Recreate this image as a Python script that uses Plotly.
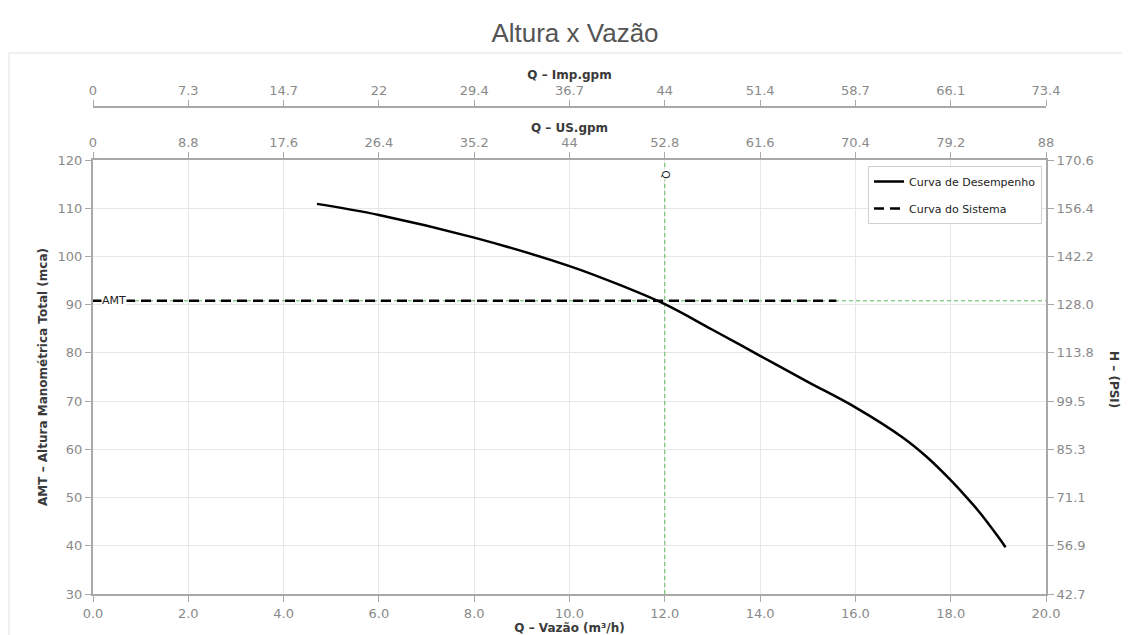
import plotly.graph_objects as go

# ---- data ----
pump_q = [4.7, 6.0, 8.0, 10.0, 11.0, 12.0, 13.0, 14.0, 15.0, 16.0, 17.0, 17.5, 18.0, 18.3, 18.6, 19.0, 19.15]
pump_h = [110.9, 108.6, 103.9, 98.0, 94.3, 90.1, 84.8, 79.4, 74.0, 68.7, 62.4, 58.4, 53.6, 50.4, 47.0, 41.8, 39.7]

sys_q = [0.0, 15.6]
sys_h = [90.8, 90.8]

op_q = 12.0      # operating flow (m3/h)
op_amt = 90.8    # AMT (mca)

x_ticks = [0, 2, 4, 6, 8, 10, 12, 14, 16, 18, 20]
us_gpm_labels = ["0", "8.8", "17.6", "26.4", "35.2", "44", "52.8", "61.6", "70.4", "79.2", "88"]
imp_gpm_labels = ["0", "7.3", "14.7", "22", "29.4", "36.7", "44", "51.4", "58.7", "66.1", "73.4"]

y_ticks = [30, 40, 50, 60, 70, 80, 90, 100, 110, 120]
psi_labels = ["42.7", "56.9", "71.1", "85.3", "99.5", "113.8", "128.0", "142.2", "156.4", "170.6"]

# ---- styles / layout (window pixel coordinates; page body has an 8px margin) ----
FONT = "DejaVu Sans"
TICK_COLOR = "#8a8a8a"
AXIS_COLOR = "#a8a8a8"
GRID_COLOR = "#e6e6e6"
TITLE_COLOR = "#3a3a3a"
GREEN = "#5cb85c"

OFF = 8
WIN_W, WIN_H = 1130, 635
W, H = WIN_W - OFF, WIN_H - OFF
PLOT_L, PLOT_R, PLOT_T, PLOT_B = 93, 1046, 160, 594   # window coords of plot area
TOP_AXIS_Y = 107                                      # window y of Imp.gpm axis line
ML = PLOT_L - OFF
MR = W - (PLOT_R - OFF)
MT = TOP_AXIS_Y - OFF
MB = H - (PLOT_B - OFF)
plot_w = W - ML - MR
plot_h = H - MT - MB
y_dom_top = (PLOT_B - PLOT_T) / plot_h


def px_x(wx):
    return (wx - PLOT_L) / plot_w


def px_y(wy):
    return (PLOT_B - wy) / plot_h


fig = go.Figure()

# green guide lines
fig.add_trace(go.Scatter(x=[x_ticks[0], x_ticks[-1]], y=[op_amt, op_amt], mode="lines",
                         line=dict(color=GREEN, width=1, dash="4px,3px"),
                         showlegend=False, hoverinfo="skip"))
fig.add_trace(go.Scatter(x=[op_q, op_q], y=[y_ticks[0], y_ticks[-1]], mode="lines",
                         line=dict(color=GREEN, width=1, dash="4px,3px"),
                         showlegend=False, hoverinfo="skip"))

fig.add_trace(go.Scatter(x=pump_q, y=pump_h, mode="lines", name="Curva de Desempenho",
                         line=dict(color="black", width=2.5, shape="spline", smoothing=1.0),
                         legendgroup="a"))
fig.add_trace(go.Scatter(x=sys_q, y=sys_h, mode="lines", name="Curva do Sistema",
                         line=dict(color="black", width=2.5, dash="10px,6px"),
                         legendgroup="b"))

# invisible traces for the extra axes
fig.add_trace(go.Scatter(x=[0], y=[30], xaxis="x2", yaxis="y", mode="markers",
                         marker=dict(opacity=0), showlegend=False, hoverinfo="skip"))
fig.add_trace(go.Scatter(x=[0], y=[30], xaxis="x3", yaxis="y", mode="markers",
                         marker=dict(opacity=0), showlegend=False, hoverinfo="skip"))
fig.add_trace(go.Scatter(x=[0], y=[30], xaxis="x", yaxis="y2", mode="markers",
                         marker=dict(opacity=0), showlegend=False, hoverinfo="skip"))

tickfont = dict(family=FONT, size=13, color=TICK_COLOR)
titlefont = dict(family=FONT, size=12, color=TITLE_COLOR, weight="bold")

common_x = dict(range=[0, 20], showline=True, linecolor=AXIS_COLOR, linewidth=2,
                ticks="outside", ticklen=6, tickcolor=AXIS_COLOR, tickfont=tickfont,
                zeroline=False)

fig.update_layout(
    width=W, height=H,
    margin=dict(l=ML, r=MR, t=MT, b=MB, autoexpand=False),
    paper_bgcolor="white", plot_bgcolor="white",
    font=dict(family=FONT),
    title=dict(text="Altura x Vazão", x=(575 - OFF) / W, xref="container", xanchor="center",
               y=1 - (33 - OFF) / H, yref="container", yanchor="middle",
               font=dict(family="Liberation Sans", size=26, color="#555555")),
    xaxis=dict(**common_x, tickvals=x_ticks, tickformat=".1f", showgrid=True,
               gridcolor=GRID_COLOR, gridwidth=1, domain=[0, 1], anchor="y",
               title=dict(text="Q – Vazão (m³/h)", font=titlefont, standoff=0)),
    xaxis2=dict(**common_x, tickvals=x_ticks, ticktext=us_gpm_labels, showgrid=False,
                overlaying="x", side="top", anchor="y",
                title=dict(text="Q – US.gpm", font=titlefont, standoff=0)),
    xaxis3=dict(**common_x, tickvals=x_ticks, ticktext=imp_gpm_labels, showgrid=False,
                overlaying="x", side="top", anchor="free", position=1,
                title=dict(text="Q – Imp.gpm", font=titlefont, standoff=0)),
    yaxis=dict(range=[30, 120], tickvals=y_ticks, domain=[0, y_dom_top], showline=True,
               linecolor=AXIS_COLOR, linewidth=2, ticks="outside", ticklen=6,
               tickcolor=AXIS_COLOR, tickfont=tickfont, showgrid=True,
               gridcolor=GRID_COLOR, zeroline=False,
               title=dict(text="AMT – Altura Manométrica Total (mca)", font=titlefont,
                          standoff=7)),
    yaxis2=dict(range=[30, 120], tickvals=y_ticks, ticktext=psi_labels, overlaying="y",
                side="right", anchor="x", showline=True, linecolor=AXIS_COLOR,
                linewidth=2, ticks="outside", ticklen=6, tickcolor=AXIS_COLOR,
                tickfont=tickfont, showgrid=False, zeroline=False),
    legend=dict(x=px_x(1042), y=px_y(166),
                xanchor="right", yanchor="top", bgcolor="white",
                bordercolor="#d0d0d0", borderwidth=1, tracegroupgap=8,
                traceorder="grouped",
                font=dict(family=FONT, size=11, color="#222222")),
    showlegend=True,
)

# labels on the guide lines
fig.add_annotation(x=0.17, y=op_amt, xref="x", yref="y", text="AMT", showarrow=False,
                   xanchor="left", yanchor="middle", bgcolor="white",
                   font=dict(family=FONT, size=11, color="#222222"), borderpad=0)
fig.add_annotation(x=op_q, y=116.9, xref="x", yref="y", text="Q", showarrow=False,
                   textangle=90, bgcolor="white", xanchor="center", yanchor="middle",
                   font=dict(family=FONT, size=11, color="#222222"), borderpad=0)

# right axis title (reads top to bottom)
fig.add_annotation(x=px_x(1114), y=px_y(379),
                   xref="paper", yref="paper", text="H – (PSI)", showarrow=False,
                   textangle=90, xanchor="center", yanchor="middle", font=titlefont)

# outer light frame (top and left edges)
fig.add_shape(type="line", xref="paper", yref="paper",
              x0=px_x(9), x1=px_x(WIN_W + 5), y0=px_y(53), y1=px_y(53),
              line=dict(color="#e2e2e2", width=1), layer="below")
fig.add_shape(type="line", xref="paper", yref="paper",
              x0=px_x(9), x1=px_x(9), y0=px_y(53), y1=px_y(WIN_H + 5),
              line=dict(color="#e2e2e2", width=1), layer="below")

fig.write_html("out.html")
